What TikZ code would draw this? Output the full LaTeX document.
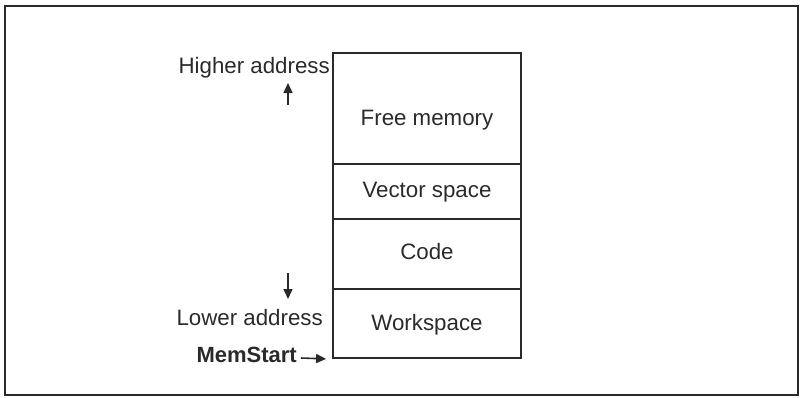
\documentclass[tikz,border=0pt]{standalone}
\usepackage{fontspec}
\setmainfont{Liberation Sans}
\usetikzlibrary{arrows.meta}
\definecolor{ink}{HTML}{2A2A2A}
\begin{document}
\begin{tikzpicture}[x=1pt,y=-1pt,
  seg/.style={draw=ink,line width=1.8pt,minimum width=188pt,inner sep=0pt,text=ink},
  lbl/.style={text=ink,inner sep=0pt,font=\fontsize{22.3}{24}\selectfont},
  arr/.style={draw=ink,line width=1.6pt,-{Triangle[length=10pt,width=9pt]}}]
\useasboundingbox (0,0) rectangle (806,397);
\draw[ink,line width=2pt] (5,6) rectangle (798,395);
\node[seg,minimum height=111pt] (free) at (427,108.5) {};
\node[seg,minimum height=55pt] (vec) at (427,191.5) {};
\node[seg,minimum height=70pt] (code) at (427,254) {};
\node[seg,minimum height=69pt] (work) at (427,323.5) {};
\node[lbl] (tfree) at (427,120) {Free memory};
\node[lbl] (tvec) at (427,192) {Vector space};
\node[lbl] (tcode) at (427,252) {Code};
\node[lbl] (twork) at (427,325) {Workspace};
\node[lbl,anchor=east] (higher) at (330,68) {Higher address};
\node[lbl,anchor=east] (lower) at (323,318) {Lower address};
\node[lbl,anchor=east,font=\bfseries\fontsize{22}{24}\selectfont] (mem) at (297,355) {MemStart};
\coordinate (ua) at (288,105);
\coordinate (ub) at (288,83);
\coordinate (da) at (288,273);
\coordinate (db) at (288,299);
\draw[arr] (ua) -- (ub);
\draw[arr] (da) -- (db);
\draw[arr] ([xshift=4pt]mem.east |- 0,358) -- ([xshift=-6pt]work.south west);
\end{tikzpicture}
\end{document}
